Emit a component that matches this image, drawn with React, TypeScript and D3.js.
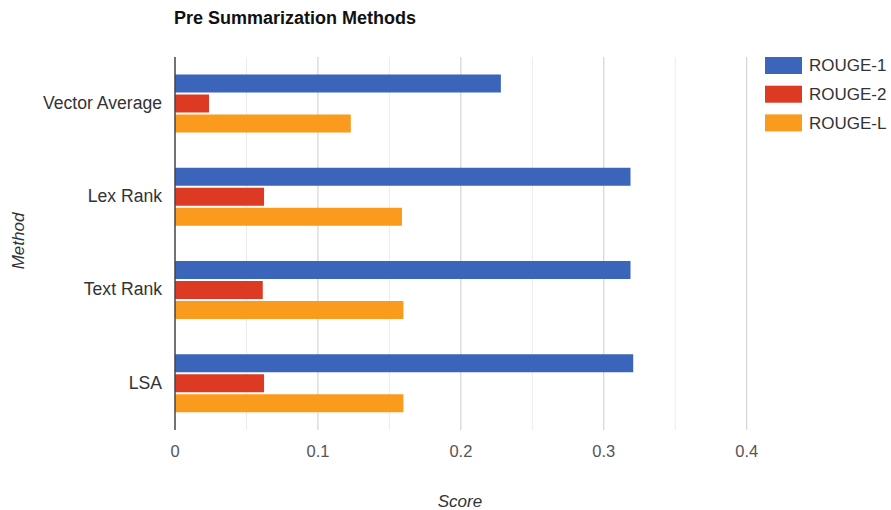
import React from "react";
import * as d3 from "d3";

const categories = ["Vector Average", "Lex Rank", "Text Rank", "LSA"];
const seriesNames = ["ROUGE-1", "ROUGE-2", "ROUGE-L"];
const rouge1 = [0.228, 0.3187, 0.3187, 0.3206];
const rouge2 = [0.0238, 0.0623, 0.0614, 0.0623];
const rougeL = [0.123, 0.1588, 0.1598, 0.1598];
const seriesValues = [rouge1, rouge2, rougeL];
const majorTicks = [0, 0.1, 0.2, 0.3, 0.4];
const minorTicks = [0.05, 0.15, 0.25, 0.35];
const colors = ["#3b65bb", "#dc3a22", "#fa9b1e"];

const W = 891;
const H = 510;
const font = "Arial, 'Liberation Sans', sans-serif";

export default function App() {
  const x = d3.scaleLinear().domain([0, 0.4]).range([175, 746.7]);
  const y = d3.scaleBand<string>().domain(categories).range([57, 430]).paddingInner(0).paddingOuter(0);
  const inner = d3.scaleBand<string>().domain(seriesNames).range([17.5, 75.5]).paddingInner(0.1);
  const [top, bottom] = y.range();

  return (
    <svg
      width={W}
      height={H}
      style={{ position: "absolute", left: 0, top: 0, background: "#fff" }}
      fontFamily={font}
    >
      <rect x={0} y={0} width={W} height={H} fill="#fff" />
      <text x={174} y={24} fontSize={18} fontWeight="bold" fill="#111">
        Pre Summarization Methods
      </text>

      {minorTicks.map((t) => (
        <line key={"mn" + t} x1={x(t)} x2={x(t)} y1={top} y2={bottom} stroke="#ebebeb" strokeWidth={1} />
      ))}
      {majorTicks.slice(1).map((t) => (
        <line key={"mj" + t} x1={x(t)} x2={x(t)} y1={top} y2={bottom} stroke="#cccccc" strokeWidth={1} />
      ))}

      {categories.map((c, i) => (
        <g key={c} transform={`translate(0,${y(c)})`}>
          {seriesNames.map((s, j) => (
            <rect
              key={s}
              x={x(0)}
              y={inner(s)}
              width={x(seriesValues[j][i]) - x(0)}
              height={inner.bandwidth()}
              fill={colors[j]}
            />
          ))}
        </g>
      ))}

      <line x1={x(0)} x2={x(0)} y1={top} y2={bottom} stroke="#444" strokeWidth={1.5} />

      {categories.map((c) => (
        <text
          key={"l" + c}
          x={162}
          y={(y(c) as number) + y.bandwidth() / 2 - 1}
          dy="0.35em"
          textAnchor="end"
          fontSize={17.6}
          fill="#333"
        >
          {c}
        </text>
      ))}

      {majorTicks.map((t) => (
        <text key={"t" + t} x={x(t)} y={457} textAnchor="middle" fontSize={16.5} fill="#555">
          {d3.format("")(t)}
        </text>
      ))}

      <text x={460} y={507} textAnchor="middle" fontSize={17} fontStyle="italic" fill="#333">
        Score
      </text>
      <text
        transform={`translate(24,241) rotate(-90)`}
        textAnchor="middle"
        fontSize={17}
        fontStyle="italic"
        fill="#333"
      >
        Method
      </text>

      {seriesNames.map((s, j) => (
        <g key={"lg" + s} transform={`translate(765,${57 + j * 28.7})`}>
          <rect x={0} y={0} width={37} height={17} fill={colors[j]} />
          <text x={44} y={8.5} dy="0.35em" fontSize={17} fill="#333">
            {s}
          </text>
        </g>
      ))}
    </svg>
  );
}
